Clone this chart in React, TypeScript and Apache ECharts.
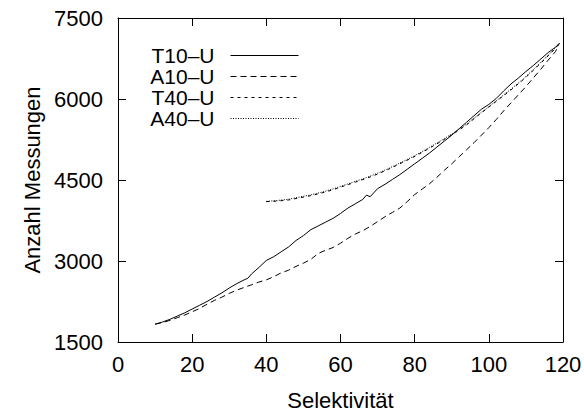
import React, { useEffect, useRef } from "react";
import * as echarts from "echarts";

const seriesNames = ["T10–U", "A10–U", "T40–U", "A40–U"];

const t10X = [10, 12, 14, 16, 18, 20, 22, 24, 26, 28, 30, 32, 34, 35, 36, 38, 40, 42, 44, 46, 48, 50, 52, 54, 56, 58, 60, 62, 64, 66, 67, 68, 70, 72, 74, 76, 78, 80, 82, 84, 86, 88, 90, 92, 94, 96, 98, 100, 102, 104, 106, 108, 110, 112, 114, 116, 118, 119];
const t10Y = [1830, 1870, 1920, 1980, 2040, 2110, 2180, 2250, 2330, 2410, 2500, 2580, 2650, 2680, 2760, 2880, 3010, 3080, 3170, 3260, 3380, 3470, 3580, 3650, 3720, 3790, 3880, 3980, 4060, 4140, 4220, 4190, 4340, 4420, 4510, 4600, 4700, 4800, 4900, 5000, 5110, 5220, 5330, 5450, 5570, 5690, 5810, 5900, 6010, 6150, 6280, 6390, 6510, 6620, 6740, 6860, 6960, 7030];

const a10X = [10, 12, 14, 16, 18, 20, 22, 24, 26, 28, 30, 32, 34, 36, 38, 40, 42, 44, 46, 48, 50, 52, 54, 56, 58, 60, 62, 64, 66, 68, 70, 72, 74, 76, 78, 80, 82, 84, 86, 88, 90, 92, 94, 96, 98, 100, 102, 104, 106, 108, 110, 112, 114, 116, 118, 119];
const a10Y = [1830, 1860, 1900, 1950, 2000, 2060, 2120, 2200, 2270, 2330, 2400, 2460, 2510, 2560, 2610, 2650, 2710, 2780, 2830, 2900, 2960, 3030, 3140, 3200, 3250, 3330, 3420, 3500, 3560, 3640, 3730, 3820, 3900, 3980, 4100, 4230, 4330, 4430, 4550, 4680, 4800, 4930, 5060, 5190, 5330, 5470, 5620, 5780, 5930, 6080, 6230, 6390, 6550, 6720, 6880, 7030];

const t40X = [40, 43, 46, 49, 52, 55, 58, 61, 64, 67, 70, 73, 76, 79, 82, 85, 88, 91, 94, 97, 100, 103, 106, 109, 112, 115, 118, 119];
const t40Y = [4100, 4110, 4130, 4170, 4210, 4260, 4320, 4390, 4460, 4530, 4610, 4700, 4800, 4900, 5010, 5130, 5250, 5380, 5520, 5690, 5850, 6010, 6170, 6340, 6530, 6730, 6940, 7030];

const a40X = [40, 43, 46, 49, 52, 55, 58, 61, 64, 67, 70, 73, 76, 79, 82, 85, 88, 91, 94, 97, 100, 103, 106, 109, 112, 115, 118, 119];
const a40Y = [4105, 4120, 4145, 4185, 4225, 4275, 4335, 4405, 4475, 4545, 4625, 4715, 4815, 4915, 5025, 5145, 5265, 5395, 5535, 5700, 5860, 6020, 6185, 6355, 6545, 6745, 6950, 7030];

const xTicks = { min: 0, max: 120, interval: 20 };
const yTicks = { min: 1500, max: 7500, interval: 1500 };

const FONT = "Liberation Sans, Arial, sans-serif";

function zip(xs: number[], ys: number[]) {
  return xs.map((x, i) => [x, ys[i]]);
}

export default function App() {
  const ref = useRef<HTMLDivElement>(null);
  useEffect(() => {
    if (!ref.current) return;
    const chart = echarts.init(ref.current, undefined, { renderer: "svg" });
    const axisCommon = {
      axisLine: { show: true, onZero: false, lineStyle: { color: "#000", width: 1 } },
      axisTick: { show: true, inside: true, length: 8, lineStyle: { color: "#000", width: 1 } },
      splitLine: { show: false },
    };
    const dashes: any[] = ["solid", [6, 4], [3, 4], [1, 1.5]];
    const datas = [zip(t10X, t10Y), zip(a10X, a10Y), zip(t40X, t40Y), zip(a40X, a40Y)];
    chart.setOption({
      animation: false,
      backgroundColor: "#fff",
      grid: { left: 118, right: 21, top: 18, bottom: 70, outerBoundsMode: "none", containLabel: false },
      legend: {
        show: true,
        orient: "vertical",
        align: "right",
        right: 280,
        top: 40,
        itemWidth: 68,
        itemHeight: 10,
        itemGap: 0,
        itemStyle: { opacity: 0, borderWidth: 0 },
        lineStyle: { width: 1 },
        data: seriesNames,
        textStyle: {
          fontSize: 21,
          fontFamily: FONT,
          color: "#000",
          lineHeight: 21,
          padding: [0, 11, 0, 0],
        },
      },
      xAxis: [
        {
          type: "value",
          ...xTicks,
          position: "bottom",
          ...axisCommon,
          name: "Selektivität",
          nameLocation: "middle",
          nameGap: 47,
          nameTextStyle: { fontSize: 22, fontFamily: FONT, color: "#000" },
          axisLabel: { show: true, fontSize: 22, fontFamily: FONT, color: "#000", margin: 11 },
        },
        {
          type: "value",
          ...xTicks,
          position: "top",
          ...axisCommon,
          axisLabel: { show: false },
        },
      ],
      yAxis: [
        {
          type: "value",
          ...yTicks,
          position: "left",
          ...axisCommon,
          name: "Anzahl Messungen",
          nameLocation: "middle",
          nameGap: 57,
          nameTextStyle: { fontSize: 22, fontFamily: FONT, color: "#000" },
          axisLabel: {
            show: true,
            fontSize: 22,
            fontFamily: FONT,
            color: "#000",
            margin: 15,
            formatter: (v: number) => String(v),
          },
        },
        {
          type: "value",
          ...yTicks,
          position: "right",
          ...axisCommon,
          axisLabel: { show: false },
        },
      ],
      series: seriesNames.map((name, i) => ({
        name,
        type: "line",
        data: datas[i],
        showSymbol: false,
        symbol: "none",
        smooth: false,
        xAxisIndex: 0,
        yAxisIndex: 0,
        color: "#000",
        lineStyle: { color: "#000", width: 1, type: dashes[i] },
      })),
    });
    return () => chart.dispose();
  }, []);
  return <div ref={ref} style={{ width: 584, height: 412, position: "absolute", left: 0, top: 0 }} />;
}
